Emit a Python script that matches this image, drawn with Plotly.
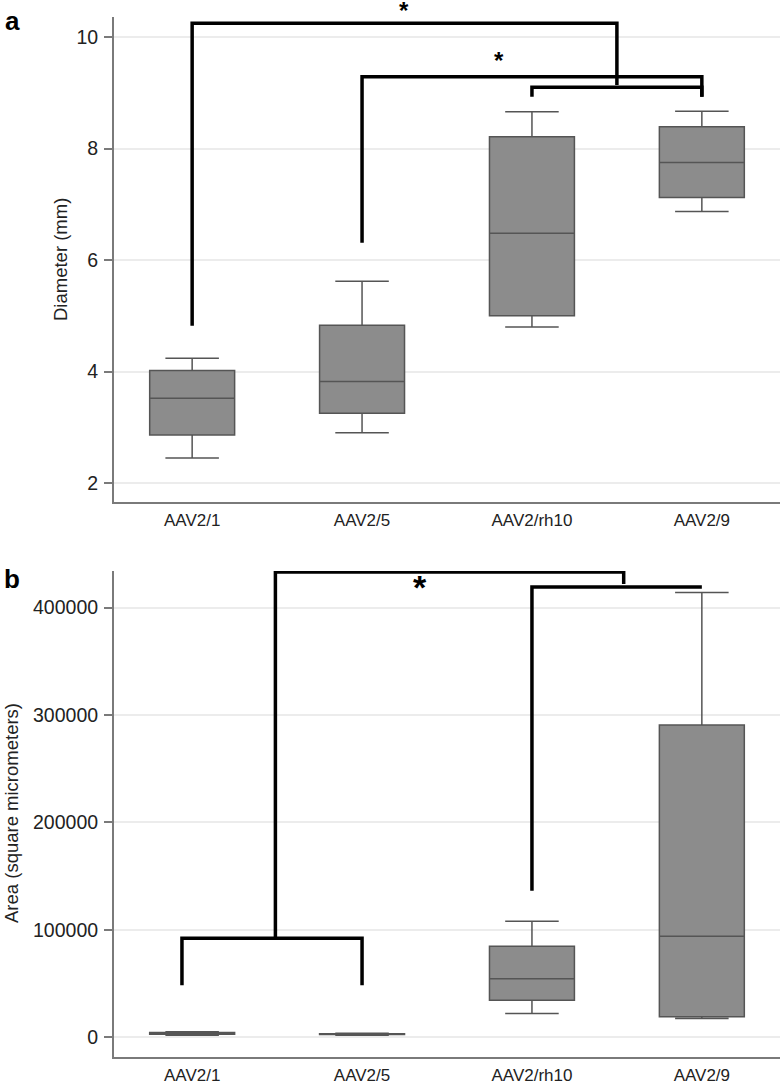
import plotly.graph_objects as go
from plotly.subplots import make_subplots

categories = ["AAV2/1", "AAV2/5", "AAV2/rh10", "AAV2/9"]
cat_pos = [0, 1, 2, 3]

# Panel a: diameter (mm)
a_lower = [2.45, 2.90, 4.80, 6.87]
a_q1 = [2.86, 3.25, 5.00, 7.12]
a_median = [3.52, 3.82, 6.48, 7.75]
a_q3 = [4.02, 4.83, 8.21, 8.39]
a_upper = [4.24, 5.62, 8.66, 8.67]

# Panel b: area (square micrometers)
b_lower = [2000, 2000, 22200, 17600]
b_q1 = [3000, 2600, 34500, 19100]
b_median = [3700, 3000, 54600, 94100]
b_q3 = [4500, 3400, 84800, 290700]
b_upper = [5200, 3800, 108000, 413900]

# significance brackets (category position, value)
a_br1_x = [0, 0, 2.5, 2.5]
a_br1_y = [4.82, 10.25, 10.25, 9.14]
a_br2_x = [1, 1, 3, 3]
a_br2_y = [6.31, 9.29, 9.29, 8.93]
a_br3_x = [2, 2, 3, 3]
a_br3_y = [8.93, 9.10, 9.10, 8.93]
a_star1_x = 1.247
a_star2_x = 1.806
a_star2_y = 9.60

b_br1_x = [-0.06, -0.06, 1, 1]
b_br1_y = [48400, 92200, 92200, 48400]
b_br2_x = [0.49, 0.49, 2.54, 2.54]
b_br2_y = [92200, 433000, 433000, 422000]
b_br3_x = [2, 2, 3]
b_br3_y = [136400, 419000, 419000]
b_star_x = 1.34
b_star_y = 421000

BOX_FILL = "#8c8c8c"
BOX_LINE = "#555555"
AXIS = "#7a7a7a"
GRID = "#ececec"
FONT = "Liberation Sans, Arial, sans-serif"
W, H = 783, 1085

fig = make_subplots(rows=2, cols=1)

for i in range(4):
    fig.add_trace(go.Box(x=[cat_pos[i]], q1=[a_q1[i]], median=[a_median[i]], q3=[a_q3[i]],
                         lowerfence=[a_lower[i]], upperfence=[a_upper[i]],
                         width=0.5, whiskerwidth=0.63, fillcolor=BOX_FILL,
                         line=dict(color=BOX_LINE, width=1.5), showlegend=False,
                         boxpoints=False), row=1, col=1)
    fig.add_trace(go.Box(x=[cat_pos[i]], q1=[b_q1[i]], median=[b_median[i]], q3=[b_q3[i]],
                         lowerfence=[b_lower[i]], upperfence=[b_upper[i]],
                         width=0.5, whiskerwidth=0.63, fillcolor=BOX_FILL,
                         line=dict(color=BOX_LINE, width=1.5), showlegend=False,
                         boxpoints=False), row=2, col=1)

for bx, by in [(a_br1_x, a_br1_y), (a_br2_x, a_br2_y), (a_br3_x, a_br3_y)]:
    fig.add_trace(go.Scatter(x=bx, y=by, mode="lines", line=dict(color="black", width=3.5),
                             showlegend=False, hoverinfo="skip"), row=1, col=1)
for bx, by in [(b_br1_x, b_br1_y), (b_br2_x, b_br2_y), (b_br3_x, b_br3_y)]:
    fig.add_trace(go.Scatter(x=bx, y=by, mode="lines", line=dict(color="black", width=3.5),
                             showlegend=False, hoverinfo="skip"), row=2, col=1)

fig.add_annotation(x=a_star1_x, y=1 - 9 / H, xref="x", yref="paper", text="<b>*</b>", showarrow=False,
                   xanchor="center", yanchor="middle",
                   font=dict(size=24, color="black", family=FONT), yshift=-1)
fig.add_annotation(x=a_star2_x, y=a_star2_y, xref="x", yref="y", text="<b>*</b>", showarrow=False,
                   xanchor="center", yanchor="middle",
                   font=dict(size=24, color="black", family=FONT), yshift=-1)
fig.add_annotation(x=b_star_x, y=b_star_y, xref="x2", yref="y2", text="<b>*</b>", showarrow=False,
                   xanchor="center", yanchor="middle",
                   font=dict(size=34, color="black", family=FONT), yshift=-2.5)

# panel labels and axis titles
fig.add_annotation(x=3 / W, y=1 - 4 / H, xref="paper", yref="paper", xanchor="left", yanchor="top",
                   text="<b>a</b>", showarrow=False, font=dict(size=26, color="black", family=FONT))
fig.add_annotation(x=2 / W, y=1 - 562 / H, xref="paper", yref="paper", xanchor="left", yanchor="top",
                   text="<b>b</b>", showarrow=False, font=dict(size=26, color="black", family=FONT))
fig.add_annotation(x=61 / W, y=1 - 260 / H, xref="paper", yref="paper", textangle=-90,
                   xanchor="center", yanchor="middle",
                   text="Diameter (mm)", showarrow=False, font=dict(size=18.5, color="#222", family=FONT))
fig.add_annotation(x=11 / W, y=1 - 813 / H, xref="paper", yref="paper", textangle=-90,
                   xanchor="center", yanchor="middle",
                   text="Area (square micrometers)", showarrow=False,
                   font=dict(size=18.5, color="#222", family=FONT))

xcommon = dict(range=[-0.46, 3.46], tickvals=cat_pos, ticktext=categories, showline=True,
               linecolor=AXIS, linewidth=2, showgrid=False, zeroline=False, ticks="",
               tickfont=dict(size=17, color="#222", family=FONT), ticklabelstandoff=2,
               automargin=False)
fig.update_xaxes(**xcommon, domain=[114 / W, 780 / W])

ycommon = dict(showline=True, linecolor=AXIS, linewidth=2, showgrid=True, gridcolor=GRID,
               gridwidth=1.5, zeroline=False, ticks="outside", ticklen=8, tickcolor=AXIS,
               tickwidth=1.5, tickfont=dict(size=19.5, color="#222", family=FONT),
               ticklabelstandoff=2, automargin=False)
fig.update_yaxes(**ycommon)
fig.update_yaxes(range=[1.66, 10.36], tickvals=[2, 4, 6, 8, 10],
                 domain=[1 - 502 / H, 1 - 17 / H], row=1, col=1)
fig.update_yaxes(range=[-18000, 434000], tickvals=[0, 100000, 200000, 300000, 400000],
                 tickformat="d", domain=[1 - 1056.7 / H, 1 - 571 / H], row=2, col=1)

fig.update_layout(width=W, height=H, margin=dict(l=0, r=0, t=0, b=0),
                  plot_bgcolor="white", paper_bgcolor="white", showlegend=False,
                  font=dict(family=FONT))

fig.write_html("out.html", config={"displayModeBar": False},
               post_script="document.body.style.margin='0';")
